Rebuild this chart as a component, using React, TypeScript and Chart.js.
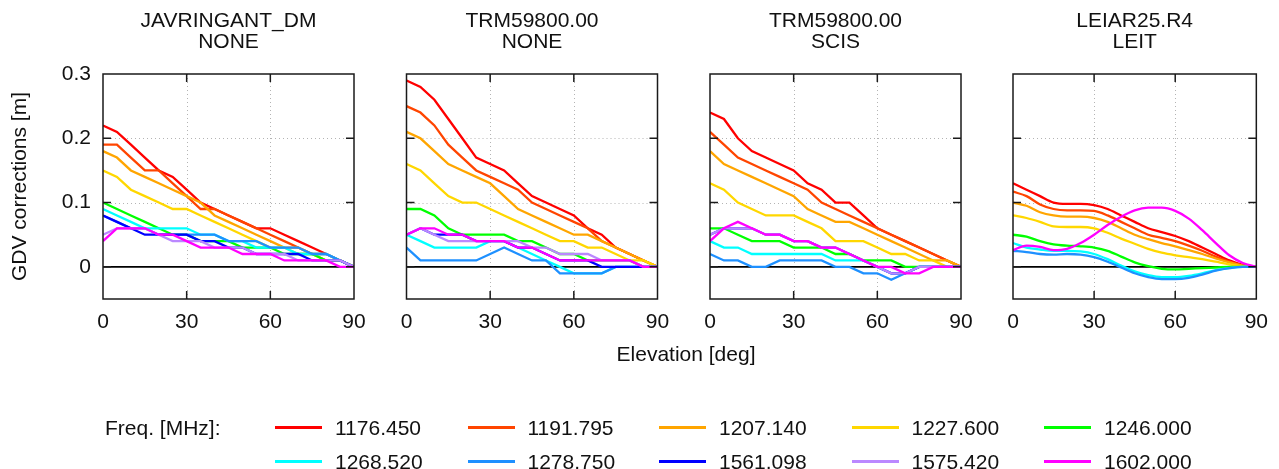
import React, { useEffect, useRef } from 'react';
import { Chart, registerables } from 'chart.js';

Chart.register(...registerables);

const elevations = [0, 5, 10, 15, 20, 25, 30, 35, 40, 45, 50, 55, 60, 65, 70, 75, 80, 85, 90];
const freqLabels = ['1176.450', '1191.795', '1207.140', '1227.600', '1246.000', '1268.520', '1278.750', '1561.098', '1575.420', '1602.000'];
const freqColors = ['#ff0000', '#ff4500', '#ffa500', '#ffd700', '#00ff00', '#00ffff', '#1e90ff', '#0000ff', '#bb88ff', '#ff00ff'];
const xTickValues = [0, 30, 60, 90];
const yTickValues = [0, 0.1, 0.2, 0.3];
const antennaNames = ['JAVRINGANT_DM', 'TRM59800.00', 'TRM59800.00', 'LEIAR25.R4'];
const radomeNames = ['NONE', 'NONE', 'SCIS', 'LEIT'];

// series per frequency, same order as freqLabels
const javravNone: (number[] | null)[] = [
  [0.22, 0.21, 0.19, 0.17, 0.15, 0.14, 0.12, 0.10, 0.09, 0.08, 0.07, 0.06, 0.06, 0.05, 0.04, 0.03, 0.02, 0.01, 0],
  [0.19, 0.19, 0.17, 0.15, 0.15, 0.13, 0.11, 0.09, 0.09, 0.08, 0.07, 0.06, 0.05, 0.04, 0.03, 0.02, 0.02, 0.01, 0],
  [0.18, 0.17, 0.15, 0.14, 0.13, 0.12, 0.11, 0.10, 0.08, 0.07, 0.06, 0.05, 0.04, 0.03, 0.03, 0.02, 0.01, 0.01, 0],
  [0.15, 0.14, 0.12, 0.11, 0.10, 0.09, 0.09, 0.08, 0.07, 0.06, 0.05, 0.04, 0.03, 0.03, 0.02, 0.02, 0.01, 0.01, 0],
  [0.10, 0.09, 0.08, 0.07, 0.06, 0.05, 0.05, 0.04, 0.04, 0.04, 0.03, 0.03, 0.03, 0.02, 0.02, 0.02, 0.01, 0.01, 0],
  [0.09, 0.08, 0.07, 0.06, 0.06, 0.06, 0.06, 0.05, 0.05, 0.04, 0.04, 0.03, 0.03, 0.03, 0.02, 0.02, 0.02, 0.01, 0],
  [0.08, 0.07, 0.06, 0.06, 0.05, 0.05, 0.05, 0.05, 0.05, 0.04, 0.04, 0.04, 0.03, 0.03, 0.03, 0.02, 0.02, 0.01, 0],
  [0.08, 0.07, 0.06, 0.05, 0.05, 0.05, 0.05, 0.04, 0.04, 0.03, 0.03, 0.02, 0.02, 0.02, 0.02, 0.01, 0.01, 0.01, 0],
  [0.05, 0.06, 0.06, 0.06, 0.05, 0.04, 0.04, 0.04, 0.03, 0.03, 0.03, 0.02, 0.02, 0.02, 0.01, 0.01, 0.01, 0.01, 0],
  [0.04, 0.06, 0.06, 0.06, 0.05, 0.05, 0.04, 0.03, 0.03, 0.03, 0.02, 0.02, 0.02, 0.01, 0.01, 0.01, 0.01, 0, 0],
];

const trmNone: (number[] | null)[] = [
  [0.29, 0.28, 0.26, 0.23, 0.20, 0.17, 0.16, 0.15, 0.13, 0.11, 0.10, 0.09, 0.08, 0.06, 0.05, 0.03, 0.02, 0.01, 0],
  [0.25, 0.24, 0.22, 0.19, 0.17, 0.15, 0.14, 0.13, 0.12, 0.10, 0.09, 0.08, 0.07, 0.06, 0.04, 0.03, 0.02, 0.01, 0],
  [0.21, 0.20, 0.18, 0.16, 0.15, 0.14, 0.13, 0.11, 0.09, 0.08, 0.07, 0.06, 0.05, 0.05, 0.04, 0.03, 0.02, 0.01, 0],
  [0.16, 0.15, 0.13, 0.11, 0.10, 0.10, 0.09, 0.08, 0.07, 0.06, 0.05, 0.04, 0.04, 0.03, 0.03, 0.02, 0.01, 0.01, 0],
  [0.09, 0.09, 0.08, 0.06, 0.05, 0.05, 0.05, 0.05, 0.04, 0.04, 0.03, 0.02, 0.02, 0.01, 0.01, 0.01, 0.01, 0, 0],
  [0.05, 0.04, 0.03, 0.03, 0.03, 0.03, 0.04, 0.04, 0.03, 0.02, 0.01, 0, -0.01, -0.01, -0.01, 0, 0, 0, 0],
  [0.03, 0.01, 0.01, 0.01, 0.01, 0.01, 0.02, 0.03, 0.02, 0.01, 0.01, -0.01, -0.01, -0.01, -0.01, 0, 0, 0, 0],
  [0.05, 0.06, 0.05, 0.05, 0.05, 0.04, 0.04, 0.04, 0.03, 0.03, 0.02, 0.01, 0.01, 0.01, 0, 0, 0, 0, 0],
  [0.05, 0.06, 0.05, 0.04, 0.04, 0.04, 0.04, 0.04, 0.04, 0.03, 0.03, 0.02, 0.02, 0.02, 0.01, 0.01, 0.01, 0, 0],
  [0.05, 0.06, 0.06, 0.05, 0.05, 0.04, 0.04, 0.04, 0.03, 0.03, 0.02, 0.01, 0.01, 0.01, 0.01, 0.01, 0.01, 0, 0],
];

const trmScis: (number[] | null)[] = [
  [0.24, 0.23, 0.20, 0.18, 0.17, 0.16, 0.15, 0.13, 0.12, 0.10, 0.10, 0.08, 0.06, 0.05, 0.04, 0.03, 0.02, 0.01, 0],
  [0.21, 0.19, 0.17, 0.16, 0.15, 0.14, 0.13, 0.12, 0.10, 0.09, 0.08, 0.07, 0.06, 0.05, 0.04, 0.03, 0.02, 0.01, 0],
  [0.18, 0.16, 0.15, 0.14, 0.13, 0.12, 0.11, 0.09, 0.08, 0.07, 0.07, 0.06, 0.05, 0.04, 0.03, 0.02, 0.01, 0.01, 0],
  [0.13, 0.12, 0.10, 0.09, 0.08, 0.08, 0.08, 0.07, 0.06, 0.04, 0.04, 0.04, 0.03, 0.02, 0.02, 0.01, 0.01, 0, 0],
  [0.06, 0.06, 0.05, 0.04, 0.04, 0.04, 0.03, 0.03, 0.03, 0.02, 0.02, 0.01, 0.01, 0.01, 0, 0, 0, 0, 0],
  [0.04, 0.03, 0.03, 0.02, 0.02, 0.02, 0.02, 0.02, 0.02, 0.01, 0.01, 0.01, 0, -0.01, -0.01, 0, 0, 0, 0],
  [0.02, 0.01, 0.01, 0, 0, 0.01, 0.01, 0.01, 0.01, 0, 0, -0.01, -0.01, -0.02, -0.01, 0, 0, 0, 0],
  [0.05, 0.06, 0.06, 0.06, 0.05, 0.05, 0.04, 0.04, 0.03, 0.03, 0.02, 0.01, 0, -0.01, -0.01, 0, 0, 0, 0],
  [0.05, 0.06, 0.06, 0.06, 0.05, 0.05, 0.04, 0.04, 0.03, 0.03, 0.02, 0.01, 0, -0.01, -0.01, 0, 0, 0, 0],
  [0.04, 0.06, 0.07, 0.06, 0.05, 0.05, 0.04, 0.04, 0.03, 0.03, 0.02, 0.01, 0, 0, -0.01, -0.01, 0, 0, 0],
];

const leiarLeit: (number[] | null)[] = [
  [0.130, 0.120, 0.110, 0.100, 0.098, 0.098, 0.096, 0.090, 0.080, 0.070, 0.060, 0.054, 0.048, 0.040, 0.030, 0.020, 0.010, 0.003, 0],
  [0.117, 0.110, 0.097, 0.090, 0.088, 0.088, 0.087, 0.080, 0.070, 0.060, 0.050, 0.045, 0.040, 0.033, 0.025, 0.016, 0.008, 0.002, 0],
  [0.100, 0.095, 0.085, 0.080, 0.078, 0.078, 0.076, 0.070, 0.060, 0.050, 0.043, 0.037, 0.032, 0.026, 0.020, 0.013, 0.007, 0.002, 0],
  [0.080, 0.076, 0.070, 0.063, 0.062, 0.062, 0.060, 0.053, 0.044, 0.036, 0.028, 0.022, 0.018, 0.015, 0.012, 0.008, 0.004, 0.001, 0],
  [0.050, 0.047, 0.040, 0.035, 0.033, 0.032, 0.030, 0.025, 0.016, 0.007, 0.001, -0.003, -0.004, -0.003, -0.002, -0.001, 0, 0, 0],
  [0.037, 0.030, 0.027, 0.025, 0.025, 0.024, 0.020, 0.012, 0.002, -0.007, -0.013, -0.016, -0.016, -0.014, -0.010, -0.005, -0.002, 0, 0],
  [0.025, 0.023, 0.020, 0.019, 0.020, 0.019, 0.015, 0.008, -0.001, -0.010, -0.016, -0.019, -0.019, -0.017, -0.012, -0.006, -0.002, 0, 0],
  null,
  null,
  [0.026, 0.033, 0.031, 0.026, 0.028, 0.037, 0.050, 0.065, 0.078, 0.088, 0.092, 0.092, 0.087, 0.075, 0.057, 0.037, 0.018, 0.006, 0],
];

const panelSeries = [javravNone, trmNone, trmScis, leiarLeit];
const panelSmooth = [false, false, false, true];

const W = 1279;
const H = 469;
const panelLefts = [103, 406.5, 710, 1013];
const PLOT_W = 251;
const PLOT_TOP = 74;
const PLOT_BOTTOM = 299;
const FONT = "'Liberation Sans', Arial, sans-serif";

const framePlugin = {
  id: 'frame',
  beforeDatasetsDraw(chart: any) {
    const { ctx, chartArea: a, scales } = chart;
    const x = scales.x;
    const y = scales.y;
    ctx.save();
    ctx.strokeStyle = '#b4b4b4';
    ctx.lineWidth = 1;
    ctx.setLineDash([1, 3]);
    for (const v of xTickValues) {
      if (v <= x.min || v >= x.max) continue;
      const px = Math.round(x.getPixelForValue(v)) + 0.5;
      ctx.beginPath();
      ctx.moveTo(px, a.top);
      ctx.lineTo(px, a.bottom);
      ctx.stroke();
    }
    for (const v of yTickValues) {
      if (v === 0 || v >= y.max) continue;
      const py = Math.round(y.getPixelForValue(v)) + 0.5;
      ctx.beginPath();
      ctx.moveTo(a.left, py);
      ctx.lineTo(a.right, py);
      ctx.stroke();
    }
    ctx.setLineDash([]);
    const y0 = y.getPixelForValue(0);
    ctx.strokeStyle = '#000';
    ctx.lineWidth = 1.6;
    ctx.beginPath();
    ctx.moveTo(a.left, y0);
    ctx.lineTo(a.right, y0);
    ctx.stroke();
    ctx.restore();
  },
  afterDraw(chart: any, _args: any, opts: any) {
    const { ctx, chartArea: a, scales } = chart;
    const x = scales.x;
    const y = scales.y;
    ctx.save();
    ctx.strokeStyle = '#1a1a1a';
    ctx.lineWidth = 1.5;
    const tl = 8;
    for (const v of xTickValues) {
      if (v <= x.min || v >= x.max) continue;
      const px = x.getPixelForValue(v);
      ctx.beginPath();
      ctx.moveTo(px, a.top);
      ctx.lineTo(px, a.top + tl);
      ctx.moveTo(px, a.bottom);
      ctx.lineTo(px, a.bottom - tl);
      ctx.stroke();
    }
    for (const v of yTickValues) {
      if (v >= y.max) continue;
      const py = y.getPixelForValue(v);
      ctx.beginPath();
      ctx.moveTo(a.left, py);
      ctx.lineTo(a.left + tl, py);
      ctx.moveTo(a.right, py);
      ctx.lineTo(a.right - tl, py);
      ctx.stroke();
    }
    ctx.strokeRect(a.left, a.top, a.right - a.left, a.bottom - a.top);
    // panel title
    ctx.fillStyle = '#111';
    ctx.font = `21px ${FONT}`;
    ctx.textAlign = 'center';
    ctx.textBaseline = 'middle';
    const cx = (a.left + a.right) / 2;
    ctx.fillText(opts.line1 || '', cx, 21.5);
    ctx.fillText(opts.line2 || '', cx, 42.5);
    ctx.restore();
  },
};

function Panel({ index }: { index: number }) {
  const ref = useRef<HTMLCanvasElement | null>(null);
  useEffect(() => {
    const canvas = ref.current;
    if (!canvas) return;
    const series = panelSeries[index];
    const smooth = panelSmooth[index];
    const left = panelLefts[index];
    const datasets: any[] = [];
    series.forEach((s, i) => {
      if (!s) return;
      datasets.push({
        label: freqLabels[i],
        data: elevations.map((e, k) => ({ x: e, y: s[k] })),
        borderColor: freqColors[i],
        backgroundColor: freqColors[i],
        borderWidth: 2.3,
        pointRadius: 0,
        fill: false,
        tension: smooth ? 0.4 : 0,
        cubicInterpolationMode: smooth ? 'monotone' : 'default',
        order: 9 - i,
      });
    });
    const chart = new Chart(canvas, {
      type: 'line',
      data: { datasets },
      plugins: [framePlugin],
      options: {
        animation: false,
        responsive: false,
        devicePixelRatio: 1,
        layout: {
          padding: {
            left: 0,
            top: PLOT_TOP,
            right: W - (left + PLOT_W),
            bottom: H - PLOT_BOTTOM - 30,
          },
        },
        plugins: {
          legend: { display: false },
          tooltip: { enabled: false },
          frame: { line1: antennaNames[index], line2: radomeNames[index] },
        } as any,
        scales: {
          x: {
            type: 'linear',
            min: 0,
            max: 90,
            afterBuildTicks: (s: any) => {
              s.ticks = xTickValues.map((v) => ({ value: v }));
            },
            afterFit: (s: any) => {
              s.height = 30;
            },
            grid: { display: false, drawTicks: false },
            border: { display: false },
            ticks: {
              padding: 11,
              color: '#111',
              font: { family: FONT, size: 21 },
              maxRotation: 0,
              autoSkip: false,
              callback: (v: any) => String(v),
            },
          },
          y: {
            type: 'linear',
            min: -0.05,
            max: 0.3,
            afterBuildTicks: (s: any) => {
              s.ticks = yTickValues.map((v) => ({ value: v }));
            },
            afterFit: (s: any) => {
              s.width = left;
            },
            grid: { display: false, drawTicks: false },
            border: { display: false },
            title: {
              display: index === 0,
              text: 'GDV corrections [m]',
              color: '#111',
              font: { family: FONT, size: 21 },
              padding: { top: 7.5, bottom: 0 },
            },
            ticks: {
              display: index === 0,
              padding: 12,
              color: '#111',
              font: { family: FONT, size: 21 },
              callback: (v: any) => (Number(v) === 0 ? '0' : Number(v).toFixed(1)),
            },
          },
        },
      } as any,
    });
    return () => chart.destroy();
  }, [index]);
  return (
    <canvas
      ref={ref}
      width={W}
      height={H}
      style={{ position: 'absolute', left: 0, top: 0, width: W, height: H }}
    />
  );
}

const legendRowY = [427, 461];
const legendColX = [275, 467.5, 659, 851.5, 1044];

export default function App() {
  useEffect(() => {
    document.body.style.margin = '0';
  }, []);
  const textStyle: React.CSSProperties = {
    position: 'absolute',
    fontFamily: FONT,
    fontSize: 21,
    lineHeight: '21px',
    color: '#111',
    whiteSpace: 'nowrap',
    transform: 'translateY(-50%)',
  };
  return (
    <div style={{ position: 'relative', width: W, height: H, background: '#fff', overflow: 'hidden' }}>
      {panelSeries.map((_, i) => (
        <Panel key={i} index={i} />
      ))}
      <div style={{ ...textStyle, left: 686, top: 352.5, transform: 'translate(-50%, -50%)' }}>Elevation [deg]</div>
      <div style={{ ...textStyle, left: 105, top: legendRowY[0] }}>Freq. [MHz]:</div>
      {freqLabels.map((lab, i) => {
        const row = Math.floor(i / 5);
        const col = i % 5;
        const lx = legendColX[col];
        const ly = legendRowY[row];
        return (
          <React.Fragment key={lab}>
            <div
              style={{
                position: 'absolute',
                left: lx,
                top: ly - 1.5,
                width: 47,
                height: 3,
                background: freqColors[i],
              }}
            />
            <div style={{ ...textStyle, left: lx + 60, top: ly }}>{lab}</div>
          </React.Fragment>
        );
      })}
    </div>
  );
}
